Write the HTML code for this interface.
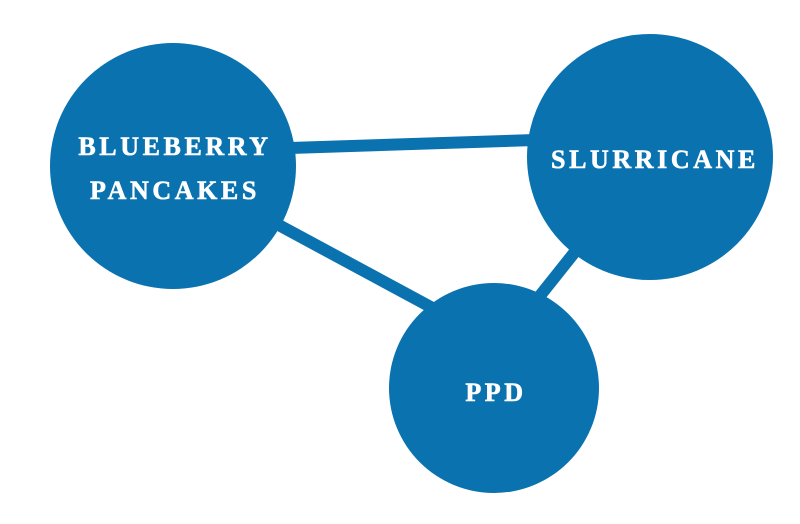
<!DOCTYPE html>
<html><head><style>html,body{margin:0;padding:0;background:#fff;width:800px;height:524px;overflow:hidden}</style></head>
<body>
<svg width="800" height="524" viewBox="0 0 800 524" xmlns="http://www.w3.org/2000/svg">
<g stroke="#0b72b0" stroke-width="12">
<line x1="290" y1="148" x2="535" y2="140"/>
<line x1="275" y1="223" x2="440" y2="312"/>
<line x1="578" y1="248" x2="535" y2="302"/>
</g>
<g fill="#0b72b0">
<circle cx="173" cy="166" r="123"/>
<circle cx="650" cy="157" r="123"/>
<circle cx="494" cy="388" r="105"/>
</g>
<g fill="#fff" stroke="#fff" stroke-width="0.6" font-family="Liberation Serif, serif" font-weight="bold" font-size="26" text-anchor="middle" letter-spacing="3.6">
<text x="175" y="155">BLUEBERRY</text>
<text x="175" y="199">PANCAKES</text>
<text x="655" y="168">SLURRICANE</text>
<text x="496" y="401">PPD</text>
</g>
</svg>
</body></html>
